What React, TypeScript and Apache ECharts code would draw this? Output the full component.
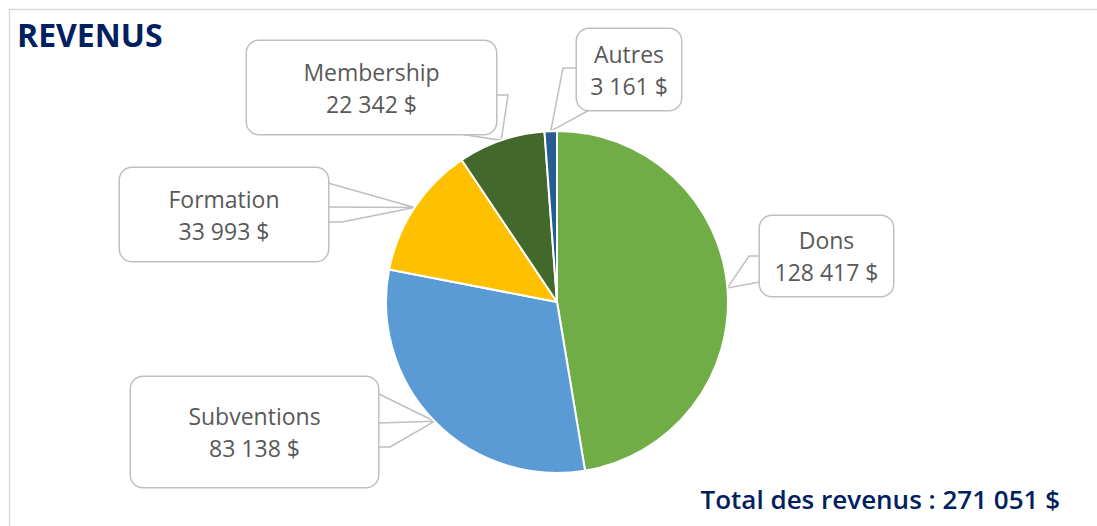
import React, { useEffect, useRef } from 'react';
import * as echarts from 'echarts';

// ---- data ----
const categories = ['Dons', 'Subventions', 'Formation', 'Membership', 'Autres'];
const values = [128417, 83138, 33993, 22342, 3161];
const colors = ['#70ad47', '#5b9bd5', '#ffc000', '#43682b', '#255e91'];
const titleText = 'REVENUS';
const totalPrefix = 'Total des revenus : ';
const currency = ' $';

// ---- callout layout (positions only) ----
type Pt = [number, number];
const boxes: { cx: number; cy: number; w: number; h: number; lead: Pt[]; wedge: Pt[] }[] = [
  { cx: 826.5, cy: 256, w: 133, h: 80, lead: [[760, 256], [749, 256]], wedge: [[760, 282]] },
  { cx: 254.5, cy: 432, w: 247, h: 110, lead: [[378, 447], [390, 447]], wedge: [[378, 423], [377, 393]] },
  { cx: 224, cy: 214.5, w: 208, h: 93, lead: [[328, 222], [342, 222]], wedge: [[328, 207], [328, 183]] },
  { cx: 371.5, cy: 87.5, w: 249, h: 93, lead: [[496, 95], [508, 95]], wedge: [[453, 133]] },
  { cx: 629, cy: 69.5, w: 104, h: 81, lead: [[577, 68], [563, 68]], wedge: [[593, 108]] },
];

const fmt = (v: number) => String(v).replace(/\B(?=(\d{3})+(?!\d))/g, ' ');

export default function App() {
  const ref = useRef<HTMLDivElement>(null);
  useEffect(() => {
    if (!ref.current) return;
    const chart = echarts.init(ref.current, null, { renderer: 'svg' });
    const total = values.reduce((a, b) => a + b, 0);
    const font = '"Open Sans", "Noto Sans", sans-serif';
    chart.setOption({
      animation: false,
      graphic: [
        {
          type: 'rect',
          shape: { x: 9.5, y: 9.5, width: 1200, height: 700 },
          style: { fill: 'none', stroke: '#d9d9d9', lineWidth: 1.5 },
          silent: true,
        },
        {
          type: 'text',
          x: 17,
          y: 34,
          style: {
            text: titleText,
            fontFamily: font,
            fontSize: 32,
            fontWeight: 'bold',
            fill: '#002060',
            verticalAlign: 'middle',
            align: 'left',
          },
        },
        {
          type: 'text',
          x: 1060,
          y: 499,
          style: {
            text: totalPrefix + fmt(total) + currency,
            fontFamily: font,
            fontSize: 26,
            fontWeight: 600,
            fill: '#002060',
            verticalAlign: 'middle',
            align: 'right',
          },
        },
      ],
      series: [
        {
          type: 'pie',
          center: [557, 302],
          radius: 171,
          startAngle: 90,
          clockwise: true,
          avoidLabelOverlap: false,
          silent: true,
          emphasis: { disabled: true },
          itemStyle: { borderColor: '#ffffff', borderWidth: 2 },
          label: {
            show: true,
            position: 'outside',
            formatter: (p: any) => `${p.name}\n${fmt(p.value)}${currency}`,
            color: '#595959',
            fontFamily: font,
            fontSize: 23,
            lineHeight: 32,
            backgroundColor: '#ffffff',
            borderColor: '#bfbfbf',
            borderWidth: 1.5,
            borderRadius: 12,
            padding: 0,
            align: 'center',
            verticalAlign: 'middle',
          },
          labelLine: {
            show: true,
            length: 10,
            length2: 10,
            lineStyle: { color: '#bfbfbf', width: 1.5 },
          },
          labelLayout: (p: any) => {
            const b = boxes[p.dataIndex];
            const tip: Pt = p.labelLinePoints ? [p.labelLinePoints[0][0], p.labelLinePoints[0][1]] : [0, 0];
            const pts: Pt[] = [b.lead[0], b.lead[1], tip];
            b.wedge.forEach((w, i) => {
              if (i > 0) pts.push(tip);
              pts.push(w);
            });
            return {
              x: b.cx,
              y: b.cy,
              align: 'center',
              verticalAlign: 'middle',
              labelLinePoints: pts,
            };
          },
          data: categories.map((name, i) => ({
            name,
            value: values[i],
            itemStyle: { color: colors[i] },
            label: { width: boxes[i].w, height: boxes[i].h },
          })),
        },
      ],
    });
    return () => chart.dispose();
  }, []);
  return (
    <div
      ref={ref}
      style={{ position: 'absolute', left: 0, top: 0, width: 1097, height: 526 }}
    />
  );
}
